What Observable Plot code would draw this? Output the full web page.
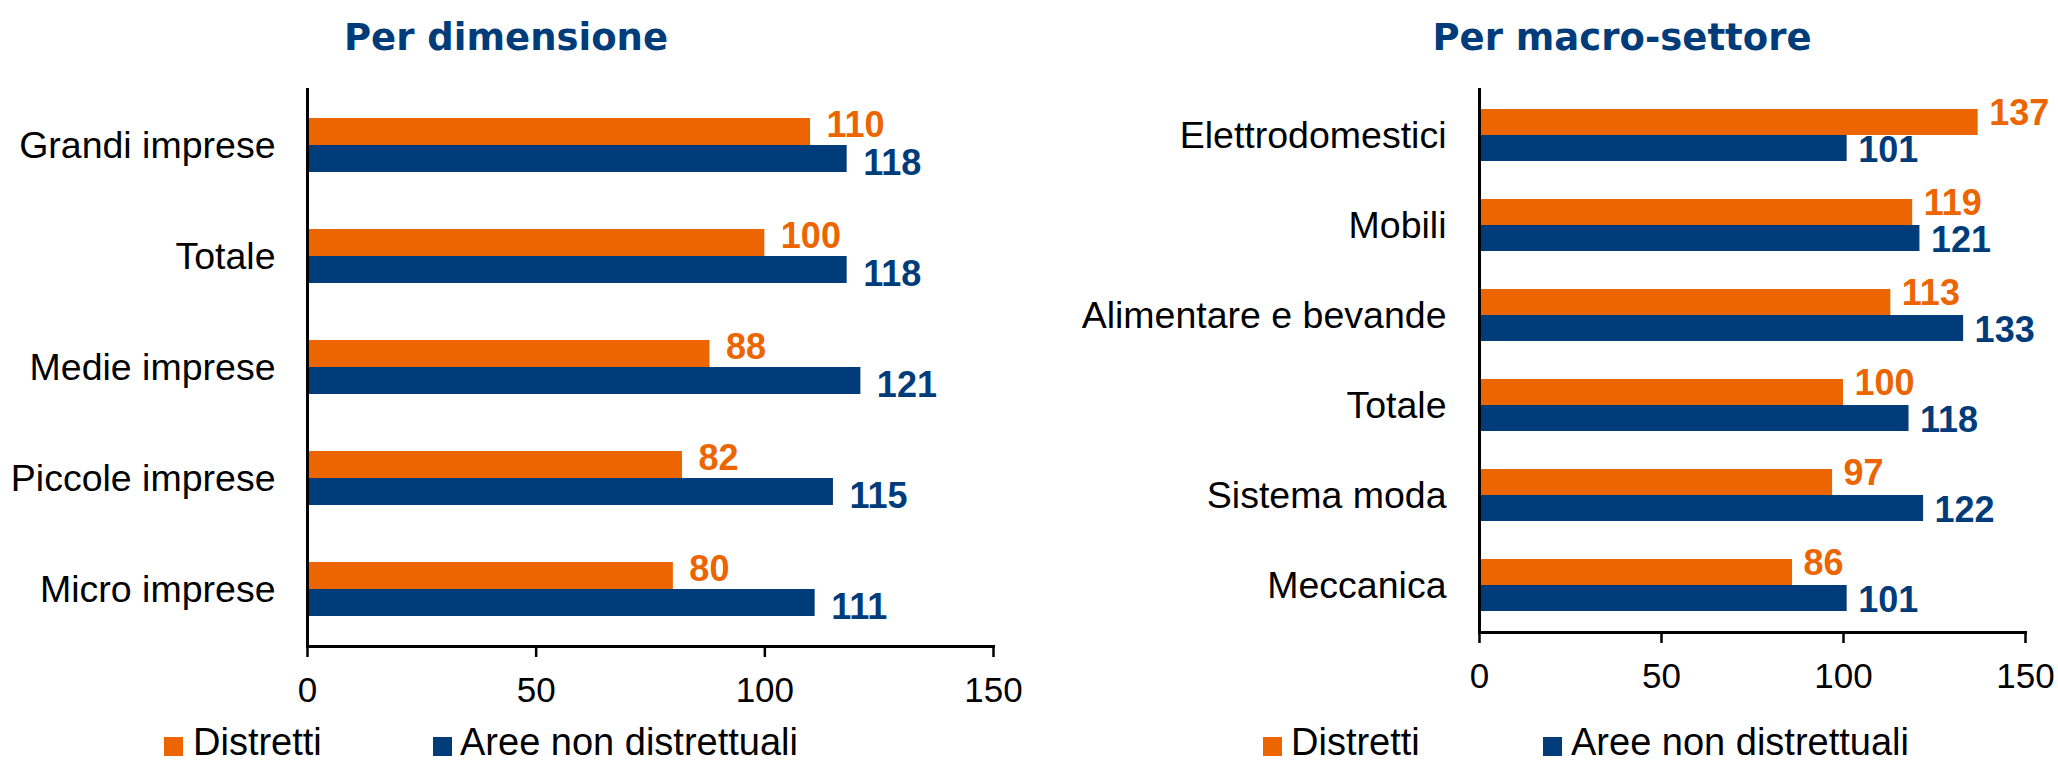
<!DOCTYPE html>
<html>
<head>
<meta charset="utf-8">
<script src="https://cdn.jsdelivr.net/npm/d3@7"></script>
<script src="https://cdn.jsdelivr.net/npm/@observablehq/plot@0.6"></script>
<style>
  html, body { margin: 0; padding: 0; background: #fff; }
  #root { position: relative; width: 2058px; height: 763px; overflow: hidden; background: #fff; }
  .panel { position: absolute; top: 0; }
  .title { position: absolute; top: 19px; transform: translateX(-50%); white-space: nowrap;
           font-family: "DejaVu Sans", sans-serif; font-weight: bold; font-size: 37px; line-height: 37px; color: #003B7A; }
  .leg-sq { position: absolute; width: 19px; height: 19px; }
  .leg-tx { position: absolute; white-space: nowrap; font-family: "Liberation Sans", Arial, sans-serif;
            font-size: 38px; line-height: 30px; color: #000; }
</style>
</head>
<body>
<div id="root"></div>
<script>
// ---- data ----
const dimCategories = ["Grandi imprese", "Totale", "Medie imprese", "Piccole imprese", "Micro imprese"];
const dimDistretti = [110, 100, 88, 82, 80];
const dimAree = [118, 118, 121, 115, 111];

const setCategories = ["Elettrodomestici", "Mobili", "Alimentare e bevande", "Totale", "Sistema moda", "Meccanica"];
const setDistretti = [137, 119, 113, 100, 97, 86];
const setAree = [101, 121, 133, 118, 122, 101];

const xTicks = [0, 50, 100, 150];
const seriesNames = ["Distretti", "Aree non distrettuali"];
const seriesColors = ["#EC6500", "#003B7A"];
const panelTitles = ["Per dimensione", "Per macro-settore"];

const root = document.getElementById("root");

function makePanel(cats, dVals, aVals, o) {
  const rows = cats.map((c, i) => ({cat: c, d: dVals[i], a: aVals[i]}));
  const chart = Plot.plot({
    width: o.width,
    height: o.height,
    marginLeft: o.ml,
    marginRight: o.mr,
    marginTop: o.mt,
    marginBottom: o.mb,
    style: {fontFamily: "'Liberation Sans', Arial, sans-serif", fontSize: "36px", background: "transparent", color: "#000", overflow: "visible"},
    x: {domain: [0, 150]},
    y: {domain: cats, paddingInner: o.pi, paddingOuter: o.po},
    marks: [
      Plot.barX(rows, {x: "d", y: "cat", fill: seriesColors[0], insetBottom: o.band / 2}),
      Plot.barX(rows, {x: "a", y: "cat", fill: seriesColors[1], insetTop: o.band / 2}),
      Plot.text(rows, {x: "d", y: "cat", text: d => String(d.d), textAnchor: "start", dx: o.gap, dy: o.dyD,
                       fill: seriesColors[0], fontWeight: "bold", fontSize: 36}),
      Plot.text(rows, {x: "a", y: "cat", text: d => String(d.a), textAnchor: "start", dx: o.gap, dy: o.dyA,
                       fill: seriesColors[1], fontWeight: "bold", fontSize: 36}),
      Plot.ruleX([0], {stroke: "#000", strokeWidth: 3}),
      Plot.frame({anchor: "bottom", stroke: "#000", strokeWidth: 3}),
      Plot.axisX({ticks: xTicks, tickSize: 11, tickPadding: 20, label: null, fontSize: 35, strokeWidth: 2.5, stroke: "#000"}),
      Plot.axisY({tickSize: 0, tickPadding: o.tp, label: null, fontSize: 37.5})
    ]
  });
  const wrap = document.createElement("div");
  wrap.className = "panel";
  wrap.style.left = o.left + "px";
  wrap.appendChild(chart);
  root.appendChild(wrap);
}

makePanel(dimCategories, dimDistretti, dimAree, {
  left: 0, width: 1040, height: 720, ml: 307, mr: 47, mt: 88, mb: 74,
  pi: 0.516, po: 0.26, band: 54, gap: 16, dyD: -20, dyA: 18, tp: 32
});
makePanel(setCategories, setDistretti, setAree, {
  left: 1040, width: 1018, height: 710, ml: 439, mr: 33, mt: 88, mb: 78,
  pi: 0.427, po: 0.209, band: 52, gap: 11, dyD: -22, dyA: 15, tp: 33
});

// titles
[[panelTitles[0], 506], [panelTitles[1], 1622]].forEach(([t, cx]) => {
  const d = document.createElement("div");
  d.className = "title";
  d.style.left = cx + "px";
  d.textContent = t;
  root.appendChild(d);
});

// legends
const legendPos = [
  {sq: [164, 193], sq2: [433, 460], y: 737, ty: 727},
  {sq: [1263, 1291], sq2: [1543, 1571], y: 737, ty: 727}
];
legendPos.forEach(p => {
  [p.sq, p.sq2].forEach((pos, i) => {
    const s = document.createElement("div");
    s.className = "leg-sq";
    s.style.left = pos[0] + "px";
    s.style.top = p.y + "px";
    s.style.background = seriesColors[i];
    root.appendChild(s);
    const t = document.createElement("div");
    t.className = "leg-tx";
    t.style.left = pos[1] + "px";
    t.style.top = p.ty + "px";
    t.textContent = seriesNames[i];
    root.appendChild(t);
  });
});
</script>
</body>
</html>
